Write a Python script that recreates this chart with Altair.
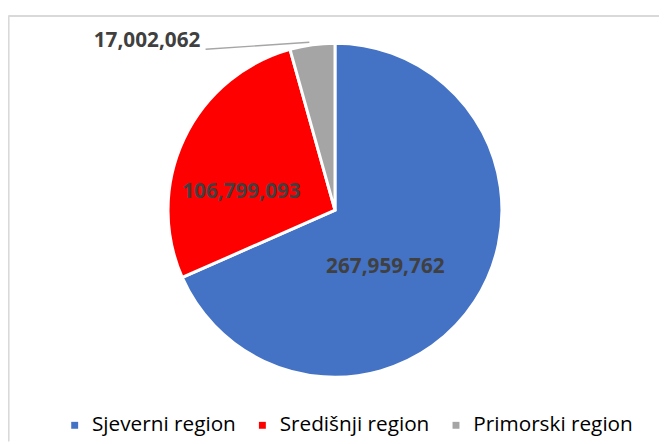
import math
import altair as alt
import pandas as pd

regions = ["Sjeverni region", "Središnji region", "Primorski region"]
values = [267959762, 106799093, 17002062]
labels = ["267,959,762", "106,799,093", "17,002,062"]
colors = ["#4472C4", "#FF0000", "#A5A5A5"]

W, H = 659, 436
CX, CY, R = 331, 202, 169

df = pd.DataFrame({"region": regions, "value": values, "label": labels, "order": [0, 1, 2]})

# leader line for the small slice: from the label to the slice's outer edge (mid-angle)
total = sum(values)
mid = (sum(values[:2]) + values[2] / 2) / total * 2 * math.pi
ex, ey = CX + R * math.sin(mid), CY - R * math.cos(mid)
lead = pd.DataFrame({"lx": [ex - 108, ex - 3], "ly": [ey + 4.5, ey - 2.5]})

color = alt.Color(
    "region:N",
    scale=alt.Scale(domain=regions, range=colors),
    sort=regions,
    legend=alt.Legend(
        title=None,
        orient="none",
        legendX=57,
        legendY=409,
        direction="horizontal",
        symbolType="square",
        symbolSize=49,
        symbolStrokeWidth=0,
        labelFont="Open Sans",
        labelFontSize=21,
        labelColor="#000000",
        labelOffset=7,
        columnPadding=16,
        labelLimit=300,
    ),
)

pie = alt.Chart(df).mark_arc(radius=R, stroke="white", strokeWidth=3).encode(
    theta=alt.Theta("value:Q", stack=True),
    order=alt.Order("order:Q"),
    color=color,
    x=alt.value(CX),
    y=alt.value(CY),
)

def lab(name, radius, dx, dy, align="center"):
    return (
        alt.Chart(df)
        .transform_window(cum="sum(value)", sort=[alt.SortField("order")], frame=[None, 0])
        .transform_calculate(mid="datum.cum - datum.value / 2")
        .transform_filter(alt.datum.region == name)
        .mark_text(
            radius=radius, dx=dx, dy=dy, align=align, baseline="middle",
            font="Open Sans", fontWeight="bold", fontSize=21, color="#404040",
        )
        .encode(
            theta=alt.Theta("mid:Q", stack=None),
            text="label:N",
            x=alt.value(CX),
            y=alt.value(CY),
        )
    )

t1 = lab(regions[0], 74, -11, 17)
t2 = lab(regions[1], 97, -7, 23.5)
t3 = lab(regions[2], 171, -113, -2, align="right")

leader = alt.Chart(lead).mark_line(color="#A6A6A6", strokeWidth=1.5).encode(
    x=alt.X("lx:Q", scale=None), y=alt.Y("ly:Q", scale=None)
)

border_top = alt.Chart(df).mark_rule(color="#D9D9D9", strokeWidth=1.5).encode(
    x=alt.value(0.5), x2=alt.value(W), y=alt.value(5.5)
)
border_left = alt.Chart(df).mark_rule(color="#D9D9D9", strokeWidth=1.5).encode(
    x=alt.value(0.5), y=alt.value(5.5), y2=alt.value(H)
)

chart = alt.layer(border_top, border_left, pie, leader, t1, t2, t3).properties(
    width=W, height=H, padding=0, autosize="none"
).configure_view(stroke=None)

chart.save("out.html", embed_options={"renderer": "svg", "actions": False})
